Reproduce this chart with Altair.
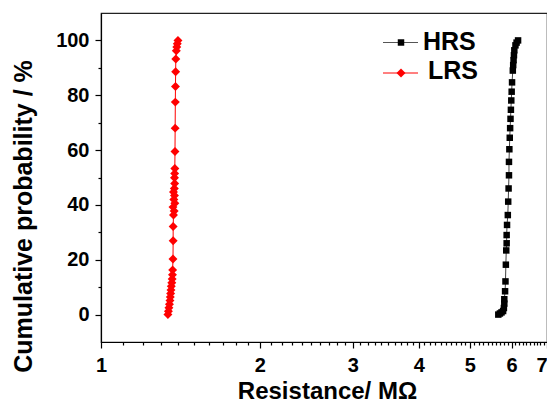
import altair as alt
import pandas as pd

# ---------------- data ----------------
series_names = ["HRS", "LRS"]

hrs_r = [5.66, 5.70, 5.74, 5.78, 5.80, 5.81, 5.81, 5.83, 5.84, 5.85, 5.86, 5.87,
         5.87, 5.88, 5.90, 5.91, 5.92, 5.93, 5.93, 5.94, 5.95, 5.96, 5.97, 5.98,
         5.99, 6.00, 6.01, 6.03, 6.04, 6.05, 6.06, 6.07, 6.10, 6.13, 6.17]
hrs_p = [0.0, 0.4, 0.8, 1.3, 2.4, 4.0, 5.6, 8.5, 12.1, 18.2, 23.4, 26.0,
         29.0, 32.7, 36.3, 41.2, 46.0, 50.8, 55.7, 60.3, 64.5, 68.0, 71.4, 74.7,
         78.1, 81.3, 84.7, 89.0, 91.0, 92.8, 94.6, 96.4, 98.2, 99.2, 100.0]

lrs_r = [1.339, 1.342, 1.345, 1.348, 1.351, 1.353, 1.355, 1.357, 1.359, 1.362,
         1.364, 1.366, 1.367, 1.369, 1.370, 1.370, 1.372, 1.376, 1.369, 1.380,
         1.374, 1.378, 1.372, 1.377, 1.379, 1.378, 1.379, 1.380, 1.381, 1.382,
         1.383, 1.384, 1.385, 1.386, 1.389, 1.392, 1.395, 1.399]
lrs_p = [0.0, 1.2, 2.5, 3.8, 5.1, 6.4, 7.7, 9.0, 10.3, 11.6,
         13.0, 14.5, 16.3, 20.3, 26.9, 32.1, 36.3, 37.8, 39.2, 40.6,
         42.0, 43.4, 44.7, 46.0, 47.8, 49.9, 51.5, 53.3, 59.5, 68.0,
         77.5, 83.2, 88.6, 93.2, 96.2, 97.6, 98.8, 100.0]

x_ticks = [1, 2, 3, 4, 5, 6, 7]
x_minor = [1.1, 1.2, 1.3, 1.4, 1.5, 1.6, 1.7, 1.8, 1.9,
           2.1, 2.2, 2.3, 2.4, 2.5, 2.6, 2.7, 2.8, 2.9,
           3.1, 3.2, 3.3, 3.4, 3.5, 3.6, 3.7, 3.8, 3.9,
           4.1, 4.2, 4.3, 4.4, 4.5, 4.6, 4.7, 4.8, 4.9,
           5.1, 5.2, 5.3, 5.4, 5.5, 5.6, 5.7, 5.8, 5.9,
           6.1, 6.2, 6.3, 6.4, 6.5, 6.6, 6.7, 6.8, 6.9]
y_ticks = [0, 20, 40, 60, 80, 100]
y_minor = [10, 30, 50, 70, 90]

hrs = pd.DataFrame({"r": hrs_r, "p": hrs_p, "o": list(range(len(hrs_r)))})
lrs = pd.DataFrame({"r": lrs_r, "p": lrs_p, "o": list(range(len(lrs_r)))})
legend_df = pd.DataFrame({"s": series_names})

FONT = "Liberation Sans"
xs = alt.Scale(type="log", domain=[1, 7], nice=False)
ys = alt.Scale(domain=[-10, 110], nice=False, zero=False)

major_x = alt.Axis(orient="bottom", values=x_ticks, format="d", tickSize=6,
                   labelPadding=7, labelFontSize=20, labelFont=FONT,
                   labelFontWeight="bold", labelColor="black", labelFlush=False,
                   labelAlign=alt.ExprRef("datum.value == 7 ? 'right' : 'center'"),
                   tickColor="black", domainColor="black", grid=False,
                   titleFont=FONT, titleFontSize=24, titleFontWeight="bold",
                   titleColor="black", titleBaseline="alphabetic",
                   titleX=226, titleY=56)
major_y = alt.Axis(orient="left", values=y_ticks, tickSize=6, labelPadding=6,
                   labelFontSize=20, labelFont=FONT, labelFontWeight="bold",
                   labelColor="black", tickColor="black", domainColor="black",
                   grid=False,
                   titleFont=FONT, titleFontSize=25, titleFontWeight="bold",
                   titleColor="black", titleBaseline="alphabetic",
                   titleAngle=270, titleAlign="center", titleX=-70, titleY=203)
minor_x = alt.Axis(orient="bottom", values=x_minor, tickSize=3, labels=False,
                   domain=False, grid=False, tickColor="black", title="")
minor_y = alt.Axis(orient="left", values=y_minor, tickSize=3, labels=False,
                   domain=False, grid=False, tickColor="black", title="")

hrs_line = alt.Chart(hrs).mark_line(color="#444444", strokeWidth=1).encode(
    x=alt.X("r:Q", scale=xs, axis=major_x, title="Resistance/ MΩ"),
    y=alt.Y("p:Q", scale=ys, axis=major_y, title="Cumulative probability / %"),
    order="o:Q",
)
hrs_pts = alt.Chart(hrs).mark_point(shape="square", filled=True, size=42,
                                    color="black", opacity=1).encode(
    x=alt.X("r:Q", scale=xs, axis=minor_x),
    y=alt.Y("p:Q", scale=ys, axis=minor_y),
)
lrs_line = alt.Chart(lrs).mark_line(color="#ff0000", strokeWidth=1).encode(
    x=alt.X("r:Q", scale=xs, axis=None),
    y=alt.Y("p:Q", scale=ys, axis=None),
    order="o:Q",
)
lrs_pts = alt.Chart(lrs).mark_point(shape="diamond", filled=True, size=80,
                                    color="#ff0000", opacity=1).encode(
    x=alt.X("r:Q", scale=xs, axis=None),
    y=alt.Y("p:Q", scale=ys, axis=None),
)

# legend (drawn inside the plot, top right)
leg_hrs = alt.Chart(legend_df[legend_df.s == "HRS"])
leg_lrs = alt.Chart(legend_df[legend_df.s == "LRS"])
legend_layers = [
    leg_hrs.mark_rule(color="#555555", strokeWidth=1).encode(
        x=alt.value(282), x2=alt.value(317), y=alt.value(29.5)),
    leg_hrs.mark_point(shape="square", filled=True, size=42, color="black",
                       opacity=1).encode(x=alt.value(300), y=alt.value(29.5)),
    leg_hrs.mark_text(align="left", baseline="alphabetic", font=FONT,
                      fontSize=25, fontWeight="bold", color="black").encode(
        x=alt.value(322), y=alt.value(37), text="s:N"),
    leg_lrs.mark_rule(color="#ff0000", strokeWidth=1).encode(
        x=alt.value(282), x2=alt.value(317), y=alt.value(60)),
    leg_lrs.mark_point(shape="diamond", filled=True, size=80, color="#ff0000",
                       opacity=1).encode(x=alt.value(300), y=alt.value(60)),
    leg_lrs.mark_text(align="left", baseline="alphabetic", font=FONT,
                      fontSize=25, fontWeight="bold", color="black").encode(
        x=alt.value(327), y=alt.value(66), text="s:N"),
]

chart = alt.layer(hrs_line, hrs_pts, lrs_line, lrs_pts, *legend_layers).resolve_axis(
    x="independent", y="independent"
).properties(
    width=446, height=329,
    autosize=alt.AutoSizeParams(type="none"),
    padding={"left": 93, "top": 5, "right": 0, "bottom": 61},
    background="white",
).configure_view(stroke="#222222", strokeWidth=1.2).configure_axis(
    domainWidth=1.2, tickWidth=1.2
)

chart.save("out.html", embed_options={"renderer": "svg", "actions": False})
